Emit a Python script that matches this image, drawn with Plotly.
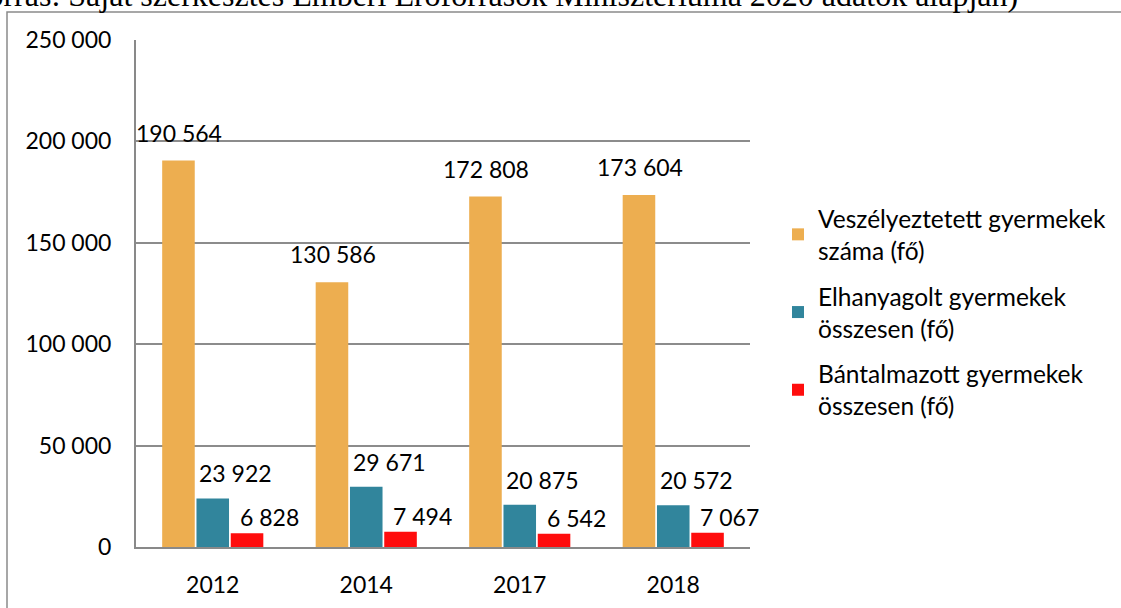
import plotly.graph_objects as go

years = ["2012", "2014", "2017", "2018"]
veszelyeztetett = [190564, 130586, 172808, 173604]
elhanyagolt = [23922, 29671, 20875, 20572]
bantalmazott = [6828, 7494, 6542, 7067]
series_names = [
    "Veszélyeztetett gyermekek<br>száma (fő)",
    "Elhanyagolt gyermekek<br>összesen (fő)",
    "Bántalmazott gyermekek<br>összesen (fő)",
]
series_values = [veszelyeztetett, elhanyagolt, bantalmazott]
colors = ["#EDAE50", "#31859C", "#FF0D0D"]
tick_vals = [0, 50000, 100000, 150000, 200000, 250000]
source_text = "(Forrás: Saját szerkesztés Emberi Erőforrások Minisztériuma 2020 adatok alapján)"

W, H = 1121, 608
L, R, T, B = 136, 371, 40, 61
PW, PH = W - L - R, H - T - B
BARGAP, BARGROUPGAP = 0.33, 0.05
FONT = "Lato"

fig = go.Figure()
for name, vals, col in zip(series_names, series_values, colors):
    fig.add_trace(go.Bar(
        x=years, y=vals, name=name, marker=dict(color=col, line=dict(width=0)),
        legendgroup=name,
    ))

# data labels
cat_w = PW / len(years)
slot = cat_w * (1 - BARGAP) / len(series_values)
label_dx = [1, 23, 22]
label_dy = [28, 25, 16]
annotations = []
for i, vals in enumerate(series_values):
    off = (i - (len(series_values) - 1) / 2) * slot
    for j, v in enumerate(vals):
        annotations.append(dict(
            x=j, y=v, xref="x", yref="y", text=f"{v:,}".replace(",", " "),
            showarrow=False, xanchor="center", yanchor="middle",
            xshift=off + label_dx[i], yshift=label_dy[i],
            font=dict(family=FONT, size=23, color="black"),
        ))

annotations.append(dict(
    x=(1020 - L) / PW, y=(PH + T + 5) / PH, xref="paper", yref="paper",
    text=source_text, showarrow=False, xanchor="right", yanchor="middle",
    font=dict(family="Liberation Serif", size=32, color="black"),
))

shapes = [dict(
    type="rect", xref="paper", yref="paper",
    x0=(7 - L) / PW, x1=(W + 10 - L) / PW,
    y0=(PH + T - (H + 10)) / PH, y1=(PH + T - 12) / PH,
    line=dict(color="#8A8A8A", width=1.5), fillcolor="rgba(0,0,0,0)", layer="below",
)]

fig.update_layout(
    width=W, height=H,
    margin=dict(l=L, r=R, t=T, b=B, autoexpand=False),
    paper_bgcolor="white", plot_bgcolor="white",
    barmode="group", bargap=BARGAP, bargroupgap=BARGROUPGAP,
    separators=", ",
    font=dict(family=FONT, size=23, color="black"),
    showlegend=True,
    legend=dict(
        x=(778 - L) / PW, y=(PH + T - 196) / PH, xanchor="left", yanchor="top",
        font=dict(family=FONT, size=24.5, color="black"),
        tracegroupgap=11, traceorder="grouped", bgcolor="rgba(0,0,0,0)",
    ),
    annotations=annotations,
    shapes=shapes,
    xaxis=dict(
        type="category", range=[-0.5, len(years) - 0.5], autorange=False,
        automargin=False,
        showline=True, linecolor="#898989", linewidth=2, ticks="",
        tickfont=dict(family=FONT, size=23, color="black"),
        ticklabelstandoff=16, showgrid=False,
    ),
    yaxis=dict(
        range=[0, 250000], autorange=False, tickvals=tick_vals, tickformat=",d",
        automargin=False,
        showline=True, linecolor="#898989", linewidth=2,
        showgrid=True, gridcolor="#8C8C8C", gridwidth=1.5, zeroline=False,
        ticks="", ticklabelstandoff=18,
        tickfont=dict(family=FONT, size=23, color="black"),
    ),
)

fig.write_html(
    "out.html",
    config={"displayModeBar": False},
    post_script="document.body.style.margin='0';document.body.style.overflow='hidden';",
)
